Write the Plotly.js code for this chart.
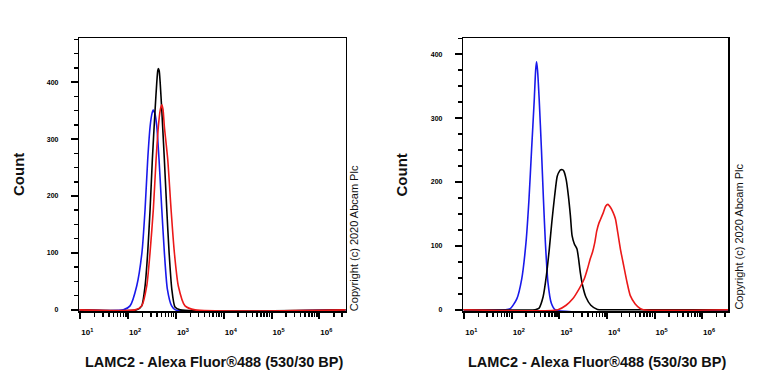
<!DOCTYPE html>
<html>
<head>
<meta charset="utf-8">
<script src="https://cdn.plot.ly/plotly-3.0.1.min.js"></script>
<style>html,body{margin:0;padding:0;background:#fff;}#chart{width:768px;height:384px;}</style>
</head>
<body>
<div id="chart"></div>
<script>
// ---- Data (x values are log10 of fluorescence intensity, y are counts) ----
const xTickVals = [1e1, 1e2, 1e3, 1e4, 1e5, 1e6];
const xTickText = ['10<sup>1</sup>', '10<sup>2</sup>', '10<sup>3</sup>', '10<sup>4</sup>', '10<sup>5</sup>', '10<sup>6</sup>'];
const yTickVals = [0, 100, 200, 300, 400];
const yTickText = ['0', '100', '200', '300', '400'];

// Left panel
const leftBlueLogX = [0.98, 1.90, 2.04, 2.18, 2.29, 2.355, 2.41, 2.46, 2.50, 2.525, 2.56, 2.60, 2.647, 2.704, 2.758, 2.82, 2.91, 2.99, 6.55];
const leftBlueY    = [0,    0,    7,    42,   101,  177,   264,  322,  345,  351,   345,  322,  264,   177,   101,   37,   7,    0,    0];
const leftBlackLogX = [0.98, 2.18, 2.285, 2.355, 2.41, 2.46, 2.507, 2.564, 2.60, 2.62, 2.633, 2.65, 2.67, 2.704, 2.758, 2.808, 2.857, 2.913, 2.98, 3.09, 6.55];
const leftBlackY    = [0,    0,    7,     42,    101,  177,  264,   351,   400,  420,  424,   420,  400,  351,   264,   177,   101,   37,    5,    0,    0];
const leftRedLogX = [0.98, 2.145, 2.285, 2.39, 2.459, 2.528, 2.585, 2.633, 2.67, 2.704, 2.73, 2.758, 2.829, 2.898, 2.967, 3.05, 3.19, 3.40, 6.55];
const leftRedY    = [0,    0,     7,     42,   101,   177,   264,   322,   350,  360,   352,  322,   264,   177,   101,   42,   7,    0,    0];

// Right panel
const rightBlueLogX = [0.98, 1.86, 1.965, 2.104, 2.207, 2.297, 2.36, 2.415, 2.471, 2.50, 2.519, 2.54, 2.575, 2.622, 2.664, 2.705, 2.76, 2.83, 2.91, 6.55];
const rightBlueY    = [0,    0,    1.5,   17,    48,    105,   173,  251,   329,   375,  388,   375,  329,   251,   173,   105,   42,   10,   0,    0];
const rightBlackLogX = [0.98, 2.49, 2.567, 2.656, 2.725, 2.787, 2.84, 2.899, 2.954, 3.002, 3.03, 3.07, 3.093, 3.141, 3.189, 3.231, 3.266, 3.314, 3.369, 3.404, 3.438, 3.487, 3.556, 3.66, 3.80, 3.95, 6.55];
const rightBlackY    = [0,    0,    2,     20,    53,    95,    137,  178,   209,   217,   219,  219,  217,   204,   178,   147,   116,   103,   95,    79,    59,    38,    20,    7,    0.5,  0,    0];
const rightRedLogX = [0.98, 2.969, 3.141, 3.28, 3.417, 3.521, 3.59, 3.645, 3.695, 3.743, 3.784, 3.832, 3.867, 3.923, 3.971, 4.019, 4.075, 4.13, 4.178, 4.226, 4.282, 4.351, 4.421, 4.49, 4.593, 4.697, 4.766, 6.55];
const rightRedY    = [0,    0,     7,     17,   33,    48,    64,   79,    90,    105,   123,   136,   142,   152,   162,   165,   160,   152,  142,   121,   95,    69,    43,    22,   9,     2,     0,     0];

const BLUE = 'rgb(25,25,235)';
const BLACK = 'rgb(0,0,0)';
const RED = 'rgb(235,25,25)';

function toLin(arr) { return arr.map(v => Math.pow(10, v)); }

const minorVals = [];
for (let e = 0; e <= 6; e++) { for (let m = 2; m <= 9; m++) minorVals.push(m * Math.pow(10, e)); }

function trace(logx, y, color, xa, ya) {
  return {
    x: toLin(logx), y: y, type: 'scatter', mode: 'lines',
    line: {color: color, width: 1.6, shape: 'spline', smoothing: 0.6},
    xaxis: xa, yaxis: ya, hoverinfo: 'skip', showlegend: false
  };
}

const data = [
  trace(leftBlueLogX, leftBlueY, BLUE, 'x', 'y'),
  trace(leftBlackLogX, leftBlackY, BLACK, 'x', 'y'),
  trace(leftRedLogX, leftRedY, RED, 'x', 'y'),
  trace(rightBlueLogX, rightBlueY, BLUE, 'x2', 'y2'),
  trace(rightBlackLogX, rightBlackY, BLACK, 'x2', 'y2'),
  trace(rightRedLogX, rightRedY, RED, 'x2', 'y2')
];

const FONT = 'Arial, "Liberation Sans", Helvetica, sans-serif';
const NARROW = '"Liberation Sans Narrow", "Arial Narrow", Arial, "Liberation Sans", sans-serif';

function xAxis(domain, anchor) {
  return {
    domain: domain, anchor: anchor, type: 'log', range: [0.98, 6.55],
    showline: true, mirror: true, linecolor: 'black', linewidth: 1.5,
    ticks: 'outside', ticklen: 6, tickwidth: 2, tickcolor: 'black',
    tickmode: 'array', tickvals: xTickVals, ticktext: xTickText,
    tickfont: {family: FONT, size: 8, color: '#000', weight: 'bold'},
    ticklabelshift: 7, ticklabelstandoff: 7,
    minor: {tickmode: 'array', tickvals: minorVals, ticks: 'outside', ticklen: 4, tickwidth: 1.5, tickcolor: 'black', showgrid: false},
    showgrid: false, zeroline: false, fixedrange: true
  };
}
function yAxis(domain, anchor, top) {
  return {
    domain: domain, anchor: anchor, range: [-2, top],
    showline: true, mirror: true, linecolor: 'black', linewidth: 1.5,
    ticks: 'outside', ticklen: 7, tickwidth: 2, tickcolor: 'black',
    tickmode: 'array', tickvals: yTickVals, ticktext: yTickText,
    tickfont: {family: NARROW, size: 7, color: '#000', weight: 'bold'},
    ticklabelstandoff: 11,
    minor: {dtick: 25, tick0: 0, ticks: 'outside', ticklen: 4, tickwidth: 1.5, tickcolor: 'black', showgrid: false},
    showgrid: false, zeroline: false, fixedrange: true
  };
}

const yDom = [0.1901, 0.9003];
const layout = {
  width: 768, height: 384,
  margin: {l: 0, r: 0, t: 0, b: 0},
  paper_bgcolor: '#fff', plot_bgcolor: '#fff',
  showlegend: false,
  xaxis: xAxis([0.1033, 0.4501], 'y'),
  yaxis: yAxis(yDom, 'x', 477),
  xaxis2: xAxis([0.6033, 0.9483], 'y2'),
  yaxis2: yAxis(yDom, 'x2', 425),
  annotations: [
    {text: '<b>Count</b>', xref: 'paper', yref: 'paper', x: 0.0241, y: 0.5456, textangle: -90, showarrow: false, xanchor: 'center', yanchor: 'middle', font: {family: FONT, size: 15, color: '#111'}},
    {text: '<b>Count</b>', xref: 'paper', yref: 'paper', x: 0.5234, y: 0.5456, textangle: -90, showarrow: false, xanchor: 'center', yanchor: 'middle', font: {family: FONT, size: 15, color: '#111'}},
    {text: '<b>LAMC2 - Alexa Fluor®488 (530/30 BP)</b>', xref: 'paper', yref: 'paper', x: 0.2793, y: 0.0573, showarrow: false, xanchor: 'center', yanchor: 'middle', font: {family: FONT, size: 14.5, color: '#111'}},
    {text: '<b>LAMC2 - Alexa Fluor®488 (530/30 BP)</b>', xref: 'paper', yref: 'paper', x: 0.778, y: 0.0573, showarrow: false, xanchor: 'center', yanchor: 'middle', font: {family: FONT, size: 14.5, color: '#111'}},
    {text: 'Copyright (c) 2020 Abcam Plc', xref: 'paper', yref: 'paper', x: 0.461, y: 0.380, textangle: -90, showarrow: false, xanchor: 'center', yanchor: 'middle', font: {family: FONT, size: 11, color: '#111'}},
    {text: 'Copyright (c) 2020 Abcam Plc', xref: 'paper', yref: 'paper', x: 0.961, y: 0.384, textangle: -90, showarrow: false, xanchor: 'center', yanchor: 'middle', font: {family: FONT, size: 11, color: '#111'}}
  ]
};

Plotly.newPlot('chart', data, layout, {staticPlot: true, displayModeBar: false});
</script>
</body>
</html>
